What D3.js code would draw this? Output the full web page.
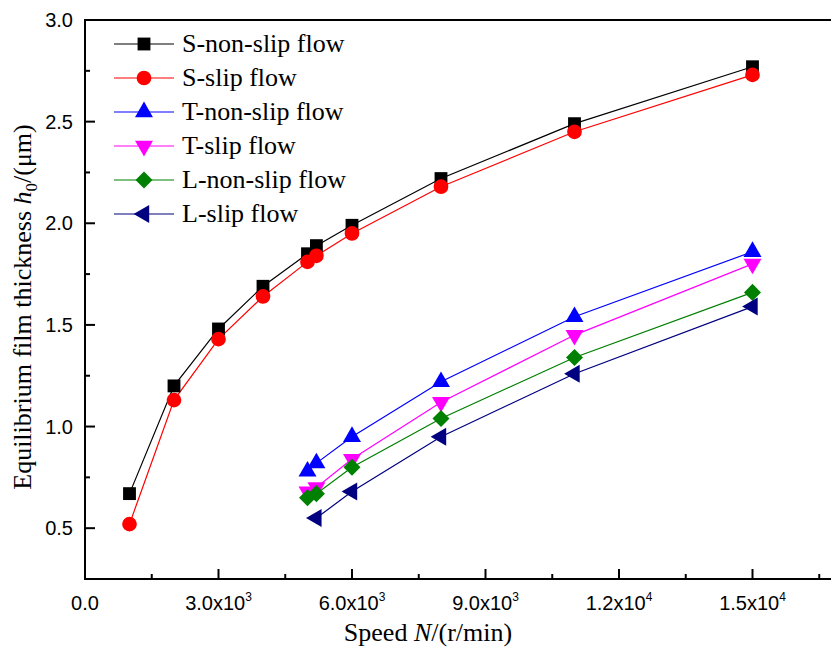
<!DOCTYPE html>
<html>
<head>
<meta charset="utf-8">
<script src="https://cdn.jsdelivr.net/npm/d3@7"></script>
<style>
  body { margin: 0; background: #fff; }
  svg { display: block; }
</style>
</head>
<body>
<div id="chart"></div>
<script>
// data
var speedS = [1000, 2000, 3000, 4000, 5000, 5200, 6000, 8000, 11000, 15000];
var speedTL = [5000, 5200, 6000, 8000, 11000, 15000];
var speedLslip = [5200, 6000, 8000, 11000, 15000];

var sNonSlip = [0.67, 1.20, 1.48, 1.69, 1.85, 1.89, 1.99, 2.22, 2.49, 2.77];
var sSlip    = [0.52, 1.13, 1.43, 1.64, 1.81, 1.84, 1.95, 2.18, 2.45, 2.73];
var tNonSlip = [0.78, 0.82, 0.95, 1.22, 1.54, 1.86];
var tSlip    = [0.68, 0.70, 0.84, 1.12, 1.45, 1.80];
var lNonSlip = [0.65, 0.67, 0.80, 1.04, 1.34, 1.66];
var lSlip    = [0.55, 0.68, 0.95, 1.26, 1.59];

var seriesNames = ["S-non-slip flow", "S-slip flow", "T-non-slip flow", "T-slip flow", "L-non-slip flow", "L-slip flow"];

var xMajor = [0, 3000, 6000, 9000, 12000, 15000];
var xMinor = [1500, 4500, 7500, 10500, 13500, 16500];
var yMajor = [0.5, 1.0, 1.5, 2.0, 2.5, 3.0];
var yMinor = [0.75, 1.25, 1.75, 2.25, 2.75];

var series = [
  {name: seriesNames[0], xs: speedS, ys: sNonSlip, color: "#000000", shape: d3.symbolSquare, size: 165, rot: 0},
  {name: seriesNames[1], xs: speedS, ys: sSlip, color: "#ff0000", shape: d3.symbolCircle, size: 170, rot: 0},
  {name: seriesNames[2], xs: speedTL, ys: tNonSlip, color: "#0000ff", shape: d3.symbolTriangle, size: 140, rot: 0},
  {name: seriesNames[3], xs: speedTL, ys: tSlip, color: "#ff00ff", shape: d3.symbolTriangle, size: 140, rot: 180},
  {name: seriesNames[4], xs: speedTL, ys: lNonSlip, color: "#008000", shape: d3.symbolSquare, size: 145, rot: 45},
  {name: seriesNames[5], xs: speedLslip, ys: lSlip, color: "#000080", shape: d3.symbolTriangle, size: 140, rot: -90}
];

var W = 831, H = 653;
var svg = d3.select("#chart").append("svg")
  .attr("width", W)
  .attr("height", H);

// scales
var x = d3.scaleLinear().domain([0, 17000]).range([85, 85 + 17000 * 0.0445]);
var y = d3.scaleLinear().domain([0.25, 3.0]).range([579, 20]);

var serif = "'Liberation Serif', 'Times New Roman', serif";
var sans = "'Liberation Sans', Arial, sans-serif";

// frame (top line)
svg.append("line")
  .attr("x1", 85).attr("x2", W)
  .attr("y1", y(3.0)).attr("y2", y(3.0))
  .attr("stroke", "#000").attr("stroke-width", 2);

// bottom axis
var xAxis = svg.append("g").attr("transform", "translate(0," + y(0.25) + ")");
xAxis.append("line").attr("x1", 84).attr("x2", W).attr("y1", 0).attr("y2", 0)
  .attr("stroke", "#000").attr("stroke-width", 2);
xAxis.selectAll(".maj").data(xMajor).enter().append("line")
  .attr("x1", function(d) { return x(d); }).attr("x2", function(d) { return x(d); })
  .attr("y1", 0).attr("y2", -10).attr("stroke", "#000").attr("stroke-width", 2);
xAxis.selectAll(".min").data(xMinor).enter().append("line")
  .attr("x1", function(d) { return x(d); }).attr("x2", function(d) { return x(d); })
  .attr("y1", 0).attr("y2", -5).attr("stroke", "#000").attr("stroke-width", 2);

var xl = xAxis.selectAll(".lab").data(xMajor).enter().append("text")
  .attr("x", function(d) { return x(d); })
  .attr("y", 31)
  .attr("text-anchor", "middle")
  .style("font-family", sans).style("font-size", "20px");
xl.each(function(d) {
  var t = d3.select(this);
  if (d === 0) { t.text("0.0"); return; }
  var e = Math.floor(Math.log10(d));
  var m = d / Math.pow(10, e);
  t.append("tspan").text(m.toFixed(1) + "x10");
  t.append("tspan").attr("dy", -9).style("font-size", "12px").text(e);
});

// left axis
var yAxis = svg.append("g");
yAxis.append("line").attr("x1", 85).attr("x2", 85).attr("y1", y(3.0) - 1).attr("y2", y(0.25) + 1)
  .attr("stroke", "#000").attr("stroke-width", 2);
yAxis.selectAll(".maj").data(yMajor).enter().append("line")
  .attr("x1", 85).attr("x2", 95)
  .attr("y1", function(d) { return y(d); }).attr("y2", function(d) { return y(d); })
  .attr("stroke", "#000").attr("stroke-width", 2);
yAxis.selectAll(".min").data(yMinor).enter().append("line")
  .attr("x1", 85).attr("x2", 90)
  .attr("y1", function(d) { return y(d); }).attr("y2", function(d) { return y(d); })
  .attr("stroke", "#000").attr("stroke-width", 2);
yAxis.selectAll(".lab").data(yMajor).enter().append("text")
  .attr("x", 73)
  .attr("y", function(d) { return y(d) + 7; })
  .attr("text-anchor", "end")
  .style("font-family", sans).style("font-size", "20px")
  .text(function(d) { return d.toFixed(1); });

// axis titles
var xt = svg.append("text")
  .attr("x", 428).attr("y", 641)
  .attr("text-anchor", "middle")
  .style("font-family", serif).style("font-size", "26px");
xt.append("tspan").text("Speed ");
xt.append("tspan").style("font-style", "italic").text("N");
xt.append("tspan").text("/(r/min)");

var yt = svg.append("text")
  .attr("transform", "translate(31,307) rotate(-90)")
  .attr("text-anchor", "middle")
  .style("font-family", serif).style("font-size", "26px");
yt.append("tspan").text("Equilibrium film thickness ");
yt.append("tspan").style("font-style", "italic").text("h");
yt.append("tspan").attr("dy", 6).style("font-size", "17px").text("0");
yt.append("tspan").attr("dy", -6).text("/(\u03bcm)");

// lines and markers
var line = d3.line()
  .x(function(d) { return x(d[0]); })
  .y(function(d) { return y(d[1]); });

series.forEach(function(s) {
  var pts = s.xs.map(function(v, i) { return [v, s.ys[i]]; });
  svg.append("path")
    .datum(pts)
    .attr("d", line)
    .attr("fill", "none")
    .attr("stroke", s.color)
    .attr("stroke-width", 1.2);
});

series.forEach(function(s) {
  var pts = s.xs.map(function(v, i) { return [v, s.ys[i]]; });
  svg.selectAll(null).data(pts).enter().append("path")
    .attr("d", d3.symbol().type(s.shape).size(s.size))
    .attr("transform", function(d) {
      return "translate(" + x(d[0]) + "," + y(d[1]) + ") rotate(" + s.rot + ")";
    })
    .attr("fill", s.color);
});

// legend
var legend = svg.append("g");
series.forEach(function(s, i) {
  var ly = 44 + i * 34;
  legend.append("line")
    .attr("x1", 114).attr("x2", 174).attr("y1", ly).attr("y2", ly)
    .attr("stroke", s.color).attr("stroke-width", 1.2);
  legend.append("path")
    .attr("d", d3.symbol().type(s.shape).size(s.size))
    .attr("transform", "translate(144," + ly + ") rotate(" + s.rot + ")")
    .attr("fill", s.color);
  legend.append("text")
    .attr("x", 182).attr("y", ly + 8)
    .style("font-family", serif).style("font-size", "26px")
    .text(s.name);
});
</script>
</body>
</html>
